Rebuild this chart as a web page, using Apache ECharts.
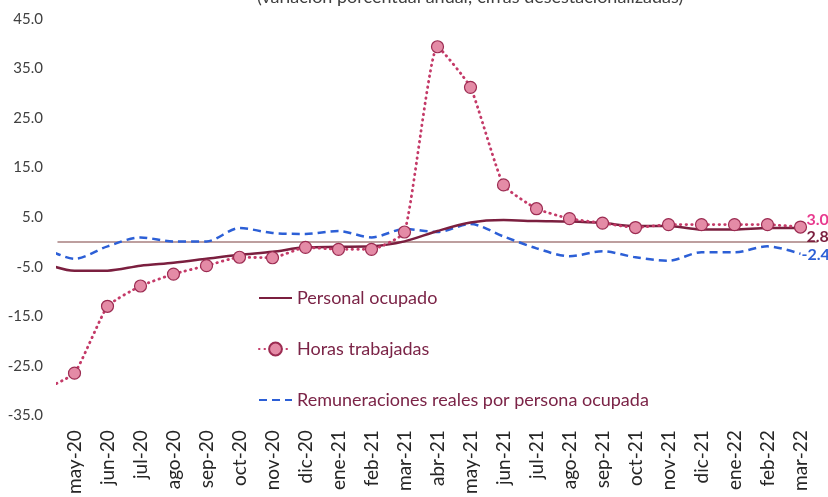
<!DOCTYPE html>
<html>
<head>
<meta charset="utf-8">
<script src="https://cdn.jsdelivr.net/npm/echarts@6/dist/echarts.min.js"></script>
<style>html,body{margin:0;padding:0;background:#fff}#c{width:828px;height:497px}</style>
</head>
<body>
<div id="c"></div>
<script>
const categories = ['abr-20','may-20','jun-20','jul-20','ago-20','sep-20','oct-20','nov-20','dic-20','ene-21','feb-21','mar-21','abr-21','may-21','jun-21','jul-21','ago-21','sep-21','oct-21','nov-21','dic-21','ene-22','feb-22','mar-22'];
const personalOcupado = [-4.1,-5.8,-5.8,-4.8,-4.2,-3.4,-2.6,-2.0,-1.1,-1.0,-0.9,0.1,2.2,3.9,4.4,4.2,4.1,3.8,3.2,3.2,2.5,2.5,2.8,2.8];
const horasTrabajadas = [-30.0,-26.5,-13.0,-8.9,-6.5,-4.8,-3.1,-3.2,-1.1,-1.5,-1.5,2.0,39.4,31.2,11.5,6.7,4.7,3.8,2.9,3.5,3.5,3.5,3.5,3.0];
const remuneraciones = [-0.9,-3.4,-0.9,0.9,0.1,0.1,2.8,1.8,1.6,2.2,0.9,2.6,2.0,3.6,1.1,-1.3,-2.9,-1.9,-3.1,-3.8,-2.1,-2.1,-0.9,-2.4];
const yTicks = {min:-35, max:45, interval:10};
const subtitle = '(variación porcentual anual; cifras desestacionalizadas)';

const chart = echarts.init(document.getElementById('c'));
const font = 'Lato, "Open Sans", sans-serif';
chart.setOption({
  animation:false,
  title:{text:subtitle, left:252, top:-17, textStyle:{fontFamily:font, fontSize:18, fontWeight:'normal', color:'#404040'}},
  grid:{left:58, right:11, top:19, bottom:81, containLabel:false},
  legend:{
    orient:'vertical', left:253, top:284, itemGap:33, itemWidth:33, itemHeight:16,
    textStyle:{fontFamily:font, fontSize:18, color:'#7b2447'},
    data:[
      {name:'Personal ocupado', itemStyle:{opacity:0}},
      {name:'Horas trabajadas'},
      {name:'Remuneraciones reales por persona ocupada', itemStyle:{opacity:0}}
    ]
  },
  xAxis:{
    type:'category', data:categories, min:1, boundaryGap:true,
    axisLine:{show:true, onZero:true, lineStyle:{color:'#a88080', width:1.5}},
    axisTick:{show:false},
    axisLabel:{interval:0, rotate:90, margin:15, fontFamily:font, fontSize:19, color:'#262626'}
  },
  yAxis:{
    type:'value', min:yTicks.min, max:yTicks.max, interval:yTicks.interval,
    splitLine:{show:false}, axisLine:{show:false}, axisTick:{show:false},
    axisLabel:{margin:15, fontFamily:font, fontSize:15, color:'#404040', formatter:v=>v.toFixed(1)}
  },
  series:[
    {
      name:'Personal ocupado', type:'line', data:personalOcupado, smooth:0.3, symbol:'none', clip:true,
      lineStyle:{color:'#7b1f3f', width:2.5}, itemStyle:{color:'#7b1f3f'},
      endLabel:{show:true, formatter:p=>p.value.toFixed(1), offset:[-2,9], fontFamily:font, fontSize:16, fontWeight:'bold', color:'#7b1f3f'},
      z:3
    },
    {
      name:'Horas trabajadas', type:'line', data:horasTrabajadas, smooth:0.15, symbol:'circle', symbolSize:12, clip:true,
      lineStyle:{color:'#c43a68', width:2.8, type:[0.5,5], cap:'round'},
      itemStyle:{color:'#e48ba6', borderColor:'#9c2c52', borderWidth:1.2},
      endLabel:{show:true, formatter:p=>p.value.toFixed(1), offset:[-2,-7], fontFamily:font, fontSize:16, fontWeight:'bold', color:'#e83a8e'},
      z:4
    },
    {
      name:'Remuneraciones reales por persona ocupada', type:'line', data:remuneraciones, smooth:0.3, symbol:'none', clip:true,
      lineStyle:{color:'#2c5fd6', width:2.5, type:[8,5]}, itemStyle:{color:'#2c5fd6'},
      endLabel:{show:true, formatter:p=>p.value.toFixed(1), offset:[-7,1], fontFamily:font, fontSize:16, fontWeight:'bold', color:'#2c5fd6'},
      z:2
    }
  ]
});
</script>
</body>
</html>
